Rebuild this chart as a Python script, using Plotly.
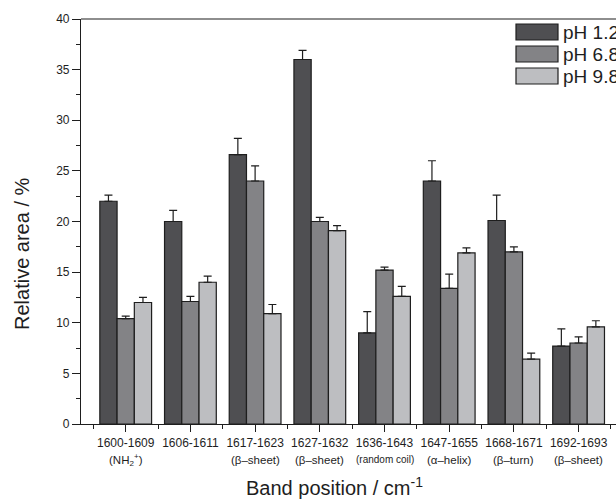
import plotly.graph_objects as go

# ---- data ----
band_ranges = ["1600-1609", "1606-1611", "1617-1623", "1627-1632",
               "1636-1643", "1647-1655", "1668-1671", "1692-1693"]
assignments = ["(NH<sub>2</sub><sup>+</sup>)", "", "(β–sheet)", "(β–sheet)",
               "(random coil)", "(α–helix)", "(β–turn)", "(β–sheet)"]
series_names = ["pH 1.2", "pH 6.8", "pH 9.8"]
ph12 = [22.0, 20.0, 26.6, 36.0, 9.0, 24.0, 20.1, 7.7]
ph12_err = [0.6, 1.1, 1.6, 0.9, 2.1, 2.0, 2.5, 1.7]
ph68 = [10.4, 12.1, 24.0, 20.0, 15.2, 13.4, 17.0, 8.0]
ph68_err = [0.25, 0.5, 1.5, 0.4, 0.3, 1.4, 0.5, 0.6]
ph98 = [12.0, 14.0, 10.9, 19.1, 12.6, 16.9, 6.4, 9.6]
ph98_err = [0.5, 0.6, 0.9, 0.5, 1.0, 0.5, 0.6, 0.6]
colors = ["#4f4f52", "#838386", "#bdbec1"]

values = [ph12, ph68, ph98]
errors = [ph12_err, ph68_err, ph98_err]

FONT = "Arial, 'Liberation Sans', Helvetica, sans-serif"
INK = "#1e1e1e"

W, H = 616, 499
L, T, B, R = 81, 19, 75, 0
plot_h = H - T - B
plot_w = W - L - R
xs = list(range(len(band_ranges)))

fig = go.Figure()
for name, vals, errs, col in zip(series_names, values, errors, colors):
    fig.add_trace(go.Bar(
        x=xs, y=vals, name=name, showlegend=False,
        marker=dict(color=col, line=dict(color=INK, width=1.2)),
        error_y=dict(type="data", symmetric=False, array=errs,
                     arrayminus=[0] * len(errs), color=INK,
                     thickness=1.2, width=4),
    ))

def py(px):  # page pixel y -> paper
    return (H - B - px) / plot_h

def pxx(px):  # page pixel x -> paper
    return (px - L) / plot_w

annotations = []
shapes = []
# second line of category labels
for i, a in enumerate(assignments):
    if not a:
        continue
    size = 10 if "random" in a else 11.5
    annotations.append(dict(x=i, xref="x", y=py(460), yref="paper",
                            text=a, showarrow=False, xanchor="center",
                            yanchor="middle",
                            font=dict(family=FONT, size=size, color=INK)))
# axis titles
annotations.append(dict(x=pxx(334), xref="paper", y=py(487), yref="paper",
                        text="Band position / cm<sup>-1</sup>", showarrow=False,
                        xanchor="center", yanchor="middle",
                        font=dict(family=FONT, size=20, color=INK)))
annotations.append(dict(x=pxx(22), xref="paper", y=py(254), yref="paper",
                        text="Relative area / %", showarrow=False, textangle=-90,
                        xanchor="center", yanchor="middle",
                        font=dict(family=FONT, size=20, color=INK)))
# manual legend
for k, (name, col) in enumerate(zip(series_names, colors)):
    cy = 32 + 22 * k
    shapes.append(dict(type="rect", xref="paper", yref="paper",
                       x0=pxx(516), x1=pxx(558), y0=py(cy - 8), y1=py(cy + 8),
                       fillcolor=col, line=dict(color=INK, width=1.2)))
    annotations.append(dict(x=pxx(561), xref="paper", y=py(cy), yref="paper",
                            text=name, showarrow=False, xanchor="left",
                            yanchor="middle",
                            font=dict(family=FONT, size=19, color=INK)))
# top frame line
shapes.append(dict(type="line", xref="paper", yref="paper", x0=0, x1=1,
                   y0=1, y1=1, line=dict(color=INK, width=1.2)))

fig.update_layout(
    width=W, height=H,
    margin=dict(l=L, r=R, t=T, b=B, autoexpand=False),
    paper_bgcolor="white", plot_bgcolor="white",
    barmode="group", bargap=0.2, bargroupgap=0,
    font=dict(family=FONT, color=INK),
    annotations=annotations, shapes=shapes,
    xaxis=dict(range=[-0.691, 7.578], tickmode="array", tickvals=xs,
               ticktext=band_ranges, showline=True, linecolor=INK,
               linewidth=1.2, ticks="outside", ticklen=7, tickwidth=1.2,
               tickcolor=INK, tickfont=dict(family=FONT, size=12, color=INK),
               showgrid=False, zeroline=False,
               minor=dict(tickmode="array",
                          tickvals=[i - 0.5 for i in xs] + [xs[-1] + 0.5],
                          ticks="outside", ticklen=4, tickwidth=1.2,
                          tickcolor=INK, showgrid=False)),
    yaxis=dict(range=[0, 40], tickmode="linear", tick0=0, dtick=5,
               showline=True, linecolor=INK, linewidth=1.2,
               ticks="outside", ticklen=8, tickwidth=1.2, tickcolor=INK,
               tickfont=dict(family=FONT, size=12, color=INK),
               showgrid=False, zeroline=False,
               minor=dict(dtick=2.5, tick0=0, ticks="outside", ticklen=4,
                          tickwidth=1.2, tickcolor=INK, showgrid=False)),
)

fig.write_html(
    "out.html",
    config={"displayModeBar": False},
    post_script="document.body.style.margin='0';"
                "document.body.style.overflow='hidden';",
)
